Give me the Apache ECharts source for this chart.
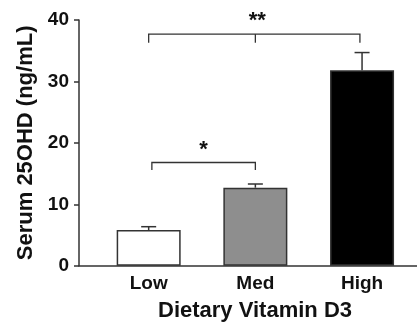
<!DOCTYPE html>
<html><head><meta charset="utf-8">
<script src="https://cdn.jsdelivr.net/npm/echarts@6/dist/echarts.min.js"></script>
<style>html,body{margin:0;padding:0;background:#fff}#c{width:417px;height:327px}</style>
</head><body><div id="c"></div>
<script>
var categories = ['Low', 'Med', 'High'];
var means = [5.8, 12.7, 31.8];
var errors = [0.55, 0.6, 2.9];
var barColors = ['#ffffff', '#8e8e8e', '#000000'];
var yTicks = [0, 10, 20, 30, 40];
// brackets: [xStart, xEnd, yLine, yEnd, label, midTick]
var brackets = [
  [0.03, 1.0, 16.8, 15.6, '*', null],
  [0.0, 1.98, 37.7, 36.3, '**', 1.0]
];

var chart = echarts.init(document.getElementById('c'));
var FONT = '"Liberation Sans", Arial, sans-serif';
var barData = means.map(function (m, i) {
  return { value: [i, m], itemStyle: { color: barColors[i] } };
});
var errData = means.map(function (m, i) { return [i, m, m + errors[i]]; });

chart.setOption({
  animation: false,
  grid: { left: 79, right: 0, top: 20, bottom: 61.3 },
  xAxis: {
    type: 'value', min: -0.653, max: 2.515,
    splitLine: { show: false },
    axisLine: { show: true, onZero: false, lineStyle: { color: '#333', width: 1.5 } },
    axisTick: { show: false },
    axisLabel: {
      customValues: [0, 1, 2],
      formatter: function (v) { return categories[Math.round(v)] || ''; },
      fontFamily: FONT, fontWeight: 'bold', fontSize: 19, color: '#111', margin: 9
    },
    name: 'Dietary Vitamin D3', nameLocation: 'middle', nameGap: 34,
    nameTextStyle: { fontFamily: FONT, fontWeight: 'bold', fontSize: 22, color: '#111', padding: [0, 0, 0, 14] }
  },
  yAxis: {
    type: 'value', min: 0, max: 40, interval: 10,
    splitLine: { show: false },
    axisLine: { show: true, onZero: false, lineStyle: { color: '#333', width: 1.5 } },
    axisTick: { show: true, length: 5, lineStyle: { color: '#333', width: 1.5 } },
    axisLabel: {
      formatter: function (v) { return yTicks.indexOf(v) >= 0 ? String(v) : ''; },
      fontFamily: FONT, fontWeight: 'bold', fontSize: 19, color: '#111', margin: 10
    },
    name: 'Serum 25OHD (ng/mL)', nameLocation: 'middle', nameGap: 42,
    nameTextStyle: { fontFamily: FONT, fontWeight: 'bold', fontSize: 22, color: '#111' }
  },
  series: [
    {
      type: 'bar', data: barData, barWidth: 64,
      itemStyle: { borderColor: '#333', borderWidth: 1.5 }
    },
    {
      type: 'custom', data: errData, z: 1,
      renderItem: function (params, api) {
        var b = api.coord([api.value(0), api.value(1)]);
        var t = api.coord([api.value(0), api.value(2)]);
        var st = { stroke: '#333', lineWidth: 1.5 };
        return { type: 'group', children: [
          { type: 'line', shape: { x1: b[0], y1: b[1], x2: t[0], y2: t[1] }, style: st },
          { type: 'line', shape: { x1: t[0] - 7.5, y1: t[1], x2: t[0] + 7.5, y2: t[1] }, style: st }
        ]};
      }
    },
    {
      type: 'custom', data: brackets.map(function (b) { return [b[0], b[1], b[2], b[3], b[5] == null ? -1 : b[5]]; }),
      renderItem: function (params, api) {
        var br = brackets[params.dataIndex];
        var p1 = api.coord([api.value(0), api.value(2)]);
        var p2 = api.coord([api.value(1), api.value(2)]);
        var e1 = api.coord([api.value(0), api.value(3)]);
        var e2 = api.coord([api.value(1), api.value(3)]);
        var st = { stroke: '#333', lineWidth: 1.3, fill: null };
        var ch = [
          { type: 'polyline', shape: { points: [e1, p1, p2, e2] }, style: st }
        ];
        var mid = api.value(4);
        var cx = (p1[0] + p2[0]) / 2;
        if (mid >= 0) {
          var m1 = api.coord([mid, api.value(2)]);
          var m2 = api.coord([mid, api.value(3)]);
          ch.push({ type: 'line', shape: { x1: m1[0], y1: m1[1], x2: m2[0], y2: m2[1] }, style: st });
          cx = m1[0] + 2;
        }
        ch.push({ type: 'text', style: { text: br[4], x: cx, y: p1[1] - 2, align: 'center', verticalAlign: 'bottom',
          font: 'bold 22px ' + FONT, fill: '#111' } });
        return { type: 'group', children: ch };
      }
    }
  ]
});
</script></body></html>
